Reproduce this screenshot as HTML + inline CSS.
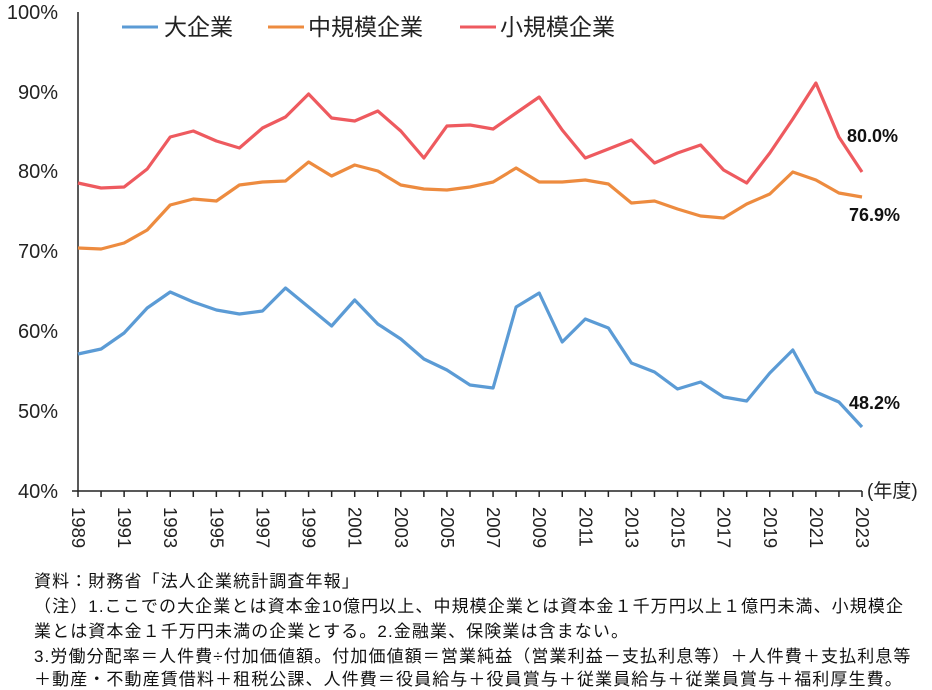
<!DOCTYPE html>
<html><head><meta charset="utf-8"><style>
body{margin:0;background:#fff;width:932px;height:689px;overflow:hidden;font-family:"Liberation Sans","Noto Sans CJK JP",sans-serif;}
svg{position:absolute;left:0;top:0}
.note{position:absolute;left:34px;font-size:17px;color:#111;white-space:nowrap;letter-spacing:1.1px;line-height:20px}
</style></head><body>
<svg width="932" height="689" xmlns="http://www.w3.org/2000/svg" font-family="Liberation Sans, Noto Sans CJK JP, sans-serif">
<g font-size="20" fill="#222" text-anchor="end">
<text x="58" y="19">100%</text><text x="58" y="99">90%</text><text x="58" y="178">80%</text>
<text x="58" y="258">70%</text><text x="58" y="338">60%</text><text x="58" y="418">50%</text><text x="58" y="498">40%</text>
</g>
<g stroke="#222" stroke-width="1.5" fill="none">
<path d="M78 12V491H862"/>
<path d="M72 491H78"/>
</g>
<g id="tk" stroke="#222" stroke-width="1.5"></g>
<g id="xl" font-size="18.5" fill="#222"></g>
<polyline id="b" fill="none" stroke="#5B9BD5" stroke-width="3.2" stroke-linejoin="round"/>
<polyline id="o" fill="none" stroke="#ED8B3F" stroke-width="3.2" stroke-linejoin="round"/>
<polyline id="r" fill="none" stroke="#EE5A5F" stroke-width="3.2" stroke-linejoin="round"/>
<g font-size="18" font-weight="bold" fill="#111">
<text x="847" y="142">80.0%</text><text x="849" y="221">76.9%</text><text x="849" y="409">48.2%</text>
</g>
<text x="867" y="497" font-size="19" fill="#222">(年度)</text>
<g font-size="23" fill="#222">
<line x1="122" y1="27" x2="158" y2="27" stroke="#5B9BD5" stroke-width="3"/><text x="164" y="35">大企業</text>
<line x1="268" y1="27" x2="304" y2="27" stroke="#ED8B3F" stroke-width="3"/><text x="308" y="35">中規模企業</text>
<line x1="460" y1="27" x2="496" y2="27" stroke="#EE5A5F" stroke-width="3"/><text x="500" y="35">小規模企業</text>
</g>
</svg>
<div class="note" style="top:572px">資料：財務省「法人企業統計調査年報」</div>
<div class="note" style="top:597px">（注）1.ここでの大企業とは資本金10億円以上、中規模企業とは資本金１千万円以上１億円未満、小規模企</div>
<div class="note" style="top:622px">業とは資本金１千万円未満の企業とする。2.金融業、保険業は含まない。</div>
<div class="note" style="top:647px">3.労働分配率＝人件費÷付加価値額。付加価値額＝営業純益（営業利益－支払利息等）＋人件費＋支払利息等</div>
<div class="note" style="top:670px">＋動産・不動産賃借料＋租税公課、人件費＝役員給与＋役員賞与＋従業員給与＋従業員賞与＋福利厚生費。</div>
<script>
var B=[354,349,333,308,292,302,310,314,311,288,307,326,300,324,339,359,370,385,388,307,293,342,319,328,363,372,389,382,397,401,373,350,392,402,427];
var O=[248,249,243,230,205,199,201,185,182,181,162,176,165,171,185,189,190,187,182,168,182,182,180,184,203,201,209,216,218,204,194,172,180,193,197];
var R=[183,188,187,169,137,131,141,148,128,117,94,118,121,111,131,158,126,125,129,113,97,130,158,149,140,163,153,145,170,183,153,119,83,137,172];
function X(i){return 78+i*784/34;}
function pts(a){return a.map(function(y,i){return X(i).toFixed(1)+","+y}).join(" ");}
document.getElementById('b').setAttribute('points',pts(B));
document.getElementById('o').setAttribute('points',pts(O));
document.getElementById('r').setAttribute('points',pts(R));
var ns="http://www.w3.org/2000/svg",tk=document.getElementById('tk'),xl=document.getElementById('xl');
for(var i=0;i<35;i++){var l=document.createElementNS(ns,'line');l.setAttribute('x1',X(i));l.setAttribute('x2',X(i));l.setAttribute('y1',491);l.setAttribute('y2',497);tk.appendChild(l);
if(i%2==0){var t=document.createElementNS(ns,'text');t.setAttribute('transform','translate('+(X(i)-6)+',507) rotate(90)');t.textContent=1989+i;xl.appendChild(t);}}
</script>
</body></html>
